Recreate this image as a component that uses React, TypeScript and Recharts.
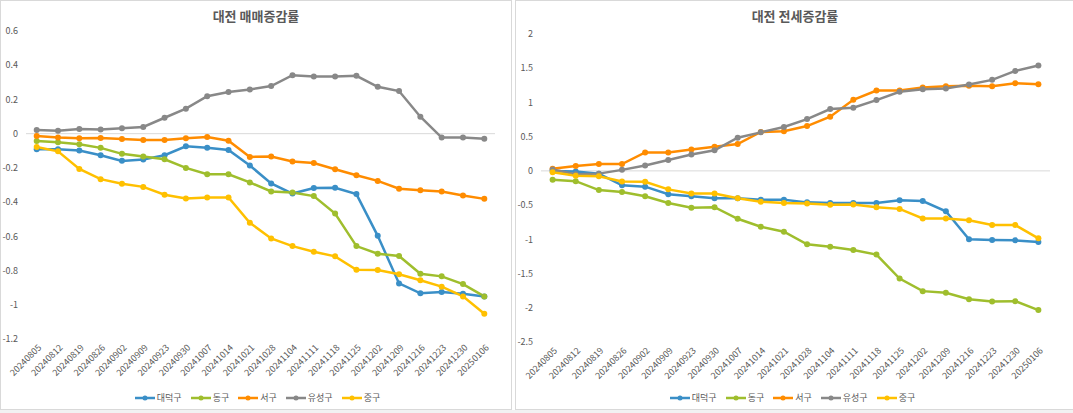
import React from 'react';
import { LineChart, Line, XAxis, YAxis, ReferenceLine, Legend } from 'recharts';

const dates = ['20240805','20240812','20240819','20240826','20240902','20240909','20240923','20240930','20241007','20241014','20241021','20241028','20241104','20241111','20241118','20241125','20241202','20241209','20241216','20241223','20241230','20250106'];

const seriesNames = ['대덕구', '동구', '서구', '유성구', '중구'];
const seriesColors = ['#3A8FC7', '#9FBE2D', '#FF8C00', '#888888', '#FFC000'];

// 매매증감률
const saleDaedeok = [-0.091,-0.091,-0.099,-0.126,-0.159,-0.151,-0.126,-0.074,-0.082,-0.095,-0.186,-0.291,-0.35,-0.318,-0.316,-0.353,-0.597,-0.875,-0.933,-0.925,-0.935,-0.951];
const saleDong = [-0.043,-0.05,-0.062,-0.083,-0.118,-0.134,-0.15,-0.2,-0.237,-0.237,-0.285,-0.338,-0.344,-0.365,-0.467,-0.657,-0.702,-0.715,-0.819,-0.834,-0.879,-0.951];
const saleSeo = [-0.014,-0.023,-0.027,-0.025,-0.031,-0.037,-0.037,-0.027,-0.019,-0.041,-0.136,-0.134,-0.163,-0.171,-0.208,-0.243,-0.276,-0.322,-0.33,-0.338,-0.361,-0.381];
const saleYuseong = [0.021,0.017,0.027,0.025,0.031,0.039,0.093,0.146,0.219,0.243,0.258,0.278,0.342,0.334,0.334,0.338,0.274,0.249,0.099,-0.023,-0.023,-0.029];
const saleJung = [-0.078,-0.103,-0.206,-0.266,-0.293,-0.311,-0.357,-0.379,-0.373,-0.373,-0.521,-0.612,-0.657,-0.69,-0.717,-0.795,-0.797,-0.822,-0.857,-0.894,-0.951,-1.052];

// 전세증감률
const rentDaedeok = [0,-0.01,-0.04,-0.21,-0.23,-0.34,-0.37,-0.4,-0.4,-0.42,-0.42,-0.46,-0.47,-0.47,-0.47,-0.43,-0.44,-0.59,-1.0,-1.01,-1.015,-1.039];
const rentDong = [-0.13,-0.15,-0.28,-0.31,-0.37,-0.47,-0.54,-0.53,-0.7,-0.815,-0.888,-1.073,-1.107,-1.155,-1.223,-1.573,-1.757,-1.781,-1.874,-1.908,-1.903,-2.034];
const rentSeo = [0.03,0.07,0.1,0.1,0.27,0.27,0.311,0.354,0.393,0.568,0.578,0.655,0.791,1.039,1.175,1.175,1.218,1.238,1.243,1.238,1.282,1.267];
const rentYuseong = [0.02,-0.05,-0.04,0.015,0.08,0.16,0.24,0.301,0.485,0.563,0.641,0.757,0.903,0.922,1.034,1.155,1.194,1.204,1.262,1.33,1.461,1.539];
const rentJung = [-0.02,-0.07,-0.08,-0.155,-0.16,-0.27,-0.33,-0.33,-0.4,-0.45,-0.47,-0.475,-0.495,-0.49,-0.53,-0.555,-0.695,-0.695,-0.72,-0.791,-0.791,-0.985];

const saleTicks = [-1.2, -1, -0.8, -0.6, -0.4, -0.2, 0, 0.2, 0.4, 0.6];
const rentTicks = [-2.5, -2, -1.5, -1, -0.5, 0, 0.5, 1, 1.5, 2];

const keys = ['d', 'g', 's', 'y', 'j'];

function buildRows(arrs: number[][]) {
  return dates.map((date, i) => {
    const row: any = { date };
    keys.forEach((k, si) => { row[k] = arrs[si][i]; });
    return row;
  });
}

const saleRows = buildRows([saleDaedeok, saleDong, saleSeo, saleYuseong, saleJung]);
const rentRows = buildRows([rentDaedeok, rentDong, rentSeo, rentYuseong, rentJung]);

const FONT = "'Noto Sans CJK KR', 'Noto Sans', sans-serif";
const TXT = '#595959';

const XTick = (props: any) => {
  const { x, y, payload } = props;
  const ax = x + 3;
  const ay = y - 1;
  return (
    <text x={ax} y={ay} transform={`rotate(-45 ${ax} ${ay})`} textAnchor="end" fontSize={9} fill={TXT} fontFamily={FONT} dy="0.35em">
      {payload.value}
    </text>
  );
};

const fmt = (v: number) => String(Math.round(v * 10) / 10);

const LegendContent = () => (
  <div style={{ display: 'flex', justifyContent: 'center', fontSize: 9, color: TXT, fontFamily: FONT }}>
    {seriesNames.map((n, i) => (
      <span key={n} style={{ display: 'inline-flex', alignItems: 'center', marginRight: 9 }}>
        <svg width={20} height={8} style={{ display: 'block' }}>
          <line x1={0} y1={4} x2={20} y2={4} stroke={seriesColors[i]} strokeWidth={2.5} />
          <circle cx={10} cy={4} r={2.5} fill={seriesColors[i]} />
        </svg>
        <span style={{ marginLeft: 2 }}>{n}</span>
      </span>
    ))}
  </div>
);

function Panel(props: { left: number; width: number; title: string; rows: any[]; ticks: number[]; domain: [number, number]; margin: any; xHeight: number; legendLeft: number; pad: number }) {
  const { left, width, title, rows, ticks, domain, margin, xHeight, legendLeft, pad } = props;
  return (
    <div style={{ position: 'absolute', left, top: 0, width, height: 410, border: '1px solid #d9d9d9', boxSizing: 'border-box', background: '#fff' }}>
      <div style={{ position: 'absolute', left: 0, top: 5, width: '100%', textAlign: 'center', fontFamily: FONT, fontSize: 13, fontWeight: 700, color: TXT }}>{title}</div>
      <div style={{ position: 'absolute', left: -1, top: -1 }}>
        <LineChart width={width} height={410} data={rows} margin={margin}>
          <XAxis dataKey="date" axisLine={false} tickLine={false} interval={0} height={xHeight} tick={<XTick />} padding={{ left: pad, right: pad }} />
          <YAxis domain={domain} ticks={ticks} axisLine={false} tickLine={false} width={25} tickFormatter={fmt} tick={{ fontSize: 9, fill: TXT, fontFamily: FONT }} interval={0} />
          <ReferenceLine y={0} stroke="#d9d9d9" strokeWidth={1} />
          {keys.map((k, i) => (
            <Line key={k} type="linear" dataKey={k} name={seriesNames[i]} stroke={seriesColors[i]} strokeWidth={2.5} dot={{ r: 3, fill: seriesColors[i], stroke: seriesColors[i], strokeWidth: 0 }} isAnimationActive={false} />
          ))}
          <Legend verticalAlign="middle" align="center" layout="horizontal" content={<LegendContent />} wrapperStyle={{ top: 391, left: legendLeft, width: width }} />
        </LineChart>
      </div>
    </div>
  );
}

export default function App() {
  return (
    <div style={{ position: 'absolute', left: 0, top: 0, width: 1073, height: 413, background: '#f2f2f2', overflow: 'hidden' }}>
      <div style={{ position: 'absolute', left: 511, top: 0, width: 4, height: 410, background: '#fff' }} />
      <Panel left={0} width={512} title="대전 매매증감률" rows={saleRows} ticks={saleTicks} domain={[-1.2, 0.6]}
        margin={{ top: 31, right: 17, left: 1, bottom: 11 }} xHeight={60} legendLeft={6} pad={10.7} />
      <Panel left={515} width={560} title="대전 전세증감률" rows={rentRows} ticks={rentTicks} domain={[-2.5, 2]}
        margin={{ top: 34, right: 25, left: 1, bottom: 8 }} xHeight={60} legendLeft={2} pad={11.6} />
    </div>
  );
}
